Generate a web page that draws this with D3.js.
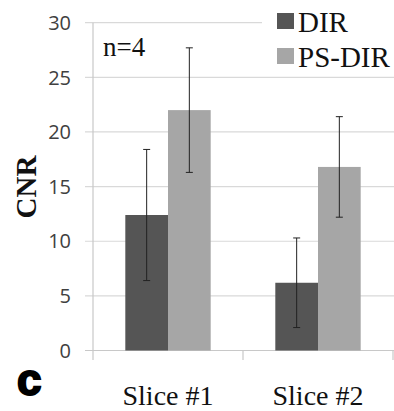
<!DOCTYPE html>
<html>
<head>
<meta charset="utf-8">
<script src="https://cdn.jsdelivr.net/npm/d3@7"></script>
<style>
  body { margin: 0; background: #fff; }
  svg { display: block; }
</style>
</head>
<body>
<svg id="chart" width="394" height="411"></svg>
<script>
// data
let slices = ["Slice #1", "Slice #2"]
let series = ["DIR", "PS-DIR"]
let dirMean = [12.4, 6.2]
let dirErr = [6.0, 4.1]
let psMean = [22.0, 16.8]
let psErr = [5.7, 4.6]
let yTicks = [0, 5, 10, 15, 20, 25, 30]

let colors = { "DIR": "#555555", "PS-DIR": "#a6a6a6" }

let rows = []
slices.forEach((s, i) => {
    rows.push({ slice: s, key: "DIR", value: dirMean[i], err: dirErr[i] })
    rows.push({ slice: s, key: "PS-DIR", value: psMean[i], err: psErr[i] })
})

let svg = d3.select("#chart")

// scales
let x0 = d3.scaleBand().domain(slices).range([93, 393]).paddingInner(0).paddingOuter(0)
let x1 = d3.scaleBand().domain(series).range([0, x0.bandwidth()]).paddingInner(0).paddingOuter(0.757)
let y = d3.scaleLinear().domain([0, 30]).range([350.5, 22.7])

// gridlines
svg.append("g")
    .selectAll("line")
    .data(yTicks.filter(t => t > 0))
    .join("line")
    .attr("x1", 85).attr("x2", 394)
    .attr("y1", d => y(d)).attr("y2", d => y(d))
    .attr("stroke", "#d9d9d9").attr("stroke-width", 1.2)

// y axis labels
svg.append("g")
    .selectAll("text")
    .data(yTicks)
    .join("text")
    .attr("x", 71)
    .attr("y", d => y(d))
    .attr("dy", "0.36em")
    .attr("text-anchor", "end")
    .style("font-family", "'Open Sans', sans-serif")
    .style("font-size", "20px")
    .style("fill", "#404040")
    .text(d => d)

// axis lines
svg.append("line").attr("x1", 93).attr("x2", 93).attr("y1", y(30)).attr("y2", 360)
    .attr("stroke", "#c8c8c8").attr("stroke-width", 1.2)
svg.append("line").attr("x1", 85).attr("x2", 394).attr("y1", y(0)).attr("y2", y(0))
    .attr("stroke", "#c8c8c8").attr("stroke-width", 1.2)
svg.append("g")
    .selectAll("line")
    .data(slices)
    .join("line")
    .attr("x1", d => x0(d) + x0.bandwidth()).attr("x2", d => x0(d) + x0.bandwidth())
    .attr("y1", y(0)).attr("y2", 360)
    .attr("stroke", "#c8c8c8").attr("stroke-width", 1.2)

// bars
let groups = svg.append("g")
    .selectAll("g")
    .data(rows)
    .join("g")
    .attr("transform", d => `translate(${x0(d.slice) + x1(d.key)},0)`)

groups.append("rect")
    .attr("x", 0)
    .attr("y", d => y(d.value))
    .attr("width", x1.bandwidth())
    .attr("height", d => y(0) - y(d.value))
    .attr("fill", d => colors[d.key])

// error bars
let bw = x1.bandwidth()
groups.append("line")
    .attr("x1", bw / 2).attr("x2", bw / 2)
    .attr("y1", d => y(d.value + d.err)).attr("y2", d => y(d.value - d.err))
    .attr("stroke", "#222").attr("stroke-width", 1)
groups.append("line")
    .attr("x1", bw / 2 - 3.5).attr("x2", bw / 2 + 3.5)
    .attr("y1", d => y(d.value + d.err)).attr("y2", d => y(d.value + d.err))
    .attr("stroke", "#222").attr("stroke-width", 1)
groups.append("line")
    .attr("x1", bw / 2 - 3.5).attr("x2", bw / 2 + 3.5)
    .attr("y1", d => y(d.value - d.err)).attr("y2", d => y(d.value - d.err))
    .attr("stroke", "#222").attr("stroke-width", 1)

// category labels
svg.append("g")
    .selectAll("text")
    .data(slices)
    .join("text")
    .attr("x", d => x0(d) + x0.bandwidth() / 2)
    .attr("y", 405)
    .attr("text-anchor", "middle")
    .style("font-family", "'Liberation Serif', serif")
    .style("font-size", "28px")
    .style("fill", "#111")
    .text(d => d)

// y title
svg.append("text")
    .attr("transform", "translate(36,187) rotate(-90)")
    .attr("text-anchor", "middle")
    .style("font-family", "'Liberation Serif', serif")
    .style("font-size", "29px")
    .style("font-weight", "bold")
    .style("fill", "#111")
    .text("CNR")

// n=4
svg.append("text")
    .attr("x", 103).attr("y", 56)
    .style("font-family", "'Liberation Serif', serif")
    .style("font-size", "27px")
    .style("fill", "#111")
    .text("n=4")

// panel letter
svg.append("text")
    .attr("x", 17).attr("y", 395)
    .style("font-family", "'Liberation Sans', sans-serif")
    .style("font-size", "44px")
    .style("font-weight", "bold")
    .style("fill", "#000")
    .style("stroke", "#000")
    .style("stroke-width", 2)
    .text("c")

// legend
svg.append("rect").attr("x", 262).attr("y", 0).attr("width", 132).attr("height", 72).attr("fill", "#fff")
let legend = svg.append("g")
    .selectAll("g")
    .data(series)
    .join("g")
    .attr("transform", (d, i) => `translate(277,${13 + i * 35})`)
legend.append("rect")
    .attr("width", 17).attr("height", 16)
    .attr("fill", d => colors[d])
legend.append("text")
    .attr("x", 21).attr("y", 19)
    .style("font-family", "'Liberation Serif', serif")
    .style("font-size", "29px")
    .style("fill", "#111")
    .text(d => d)
</script>
</body>
</html>
